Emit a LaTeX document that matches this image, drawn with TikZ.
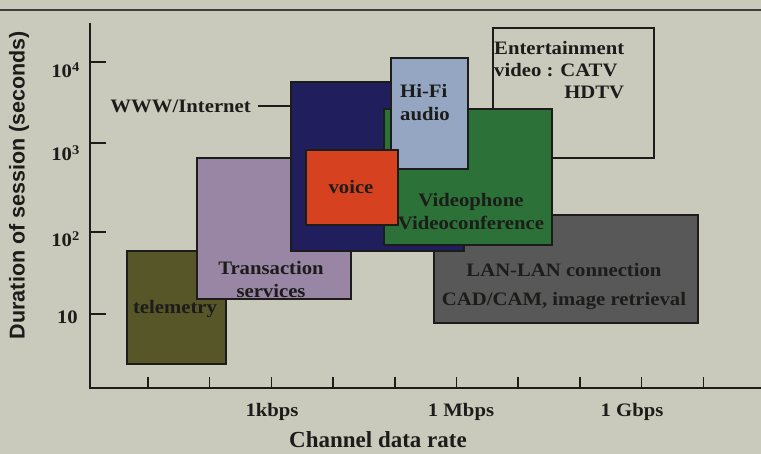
\documentclass[tikz,border=0pt]{standalone}
\usepackage{fontspec}
\setmainfont{Liberation Serif}
\setsansfont{Liberation Sans}
\newfontfamily\wideserif[FakeStretch=1.09]{Liberation Serif}
\definecolor{paper}{RGB}{202,202,188}
\definecolor{ink}{RGB}{28,28,26}
\definecolor{cOlive}{RGB}{86,86,40}
\definecolor{cPurple}{RGB}{152,134,164}
\definecolor{cNavy}{RGB}{32,30,92}
\definecolor{cGreen}{RGB}{44,114,56}
\definecolor{cHifi}{RGB}{148,166,194}
\definecolor{cRed}{RGB}{214,66,32}
\definecolor{cGray}{RGB}{88,88,88}
\tikzset{
  area/.style={draw=ink, line width=1.6pt, inner sep=0pt, anchor=north west},
  lbl/.style={font=\wideserif\fontsize{19}{23}\selectfont\bfseries, text=ink, inner sep=1pt, align=center},
  ticklbl/.style={font=\wideserif\fontsize{19}{22}\selectfont\bfseries, text=ink, inner sep=0pt},
  axis/.style={draw=ink, line width=1.5pt},
  title/.style={text=ink, inner sep=0pt}
}
\begin{document}
\begin{tikzpicture}[x=1pt,y=-1pt]
\fill[paper] (0,0) rectangle (761,454);
\useasboundingbox (0,0) rectangle (761,454);
% top rule
\coordinate (ruleL) at (0,10);
\coordinate (ruleR) at (761,10);
\draw[draw=ink!85, line width=1.2pt] (ruleL) -- (ruleR);

% areas (drawing order = stacking order)
\node[area, minimum width=161pt, minimum height=130pt] (ent) at (492,27) {};
\node[area, fill=cGray, minimum width=264pt, minimum height=108pt] (lan) at (433,214) {};
\node[area, fill=cOlive, minimum width=99pt, minimum height=113pt] (tele) at (126,250) {};
\node[area, fill=cPurple, minimum width=154pt, minimum height=141pt] (trans) at (196,157) {};
\node[area, fill=cNavy, minimum width=173pt, minimum height=169pt] (www) at (290,81) {};
\node[area, fill=cGreen, minimum width=168pt, minimum height=136pt] (video) at (383,108) {};
\node[area, fill=cHifi, minimum width=77pt, minimum height=111pt] (hifi) at (390,57) {};
\node[area, fill=cRed, minimum width=92pt, minimum height=75pt] (voice) at (305,149) {};

% labels
\node[lbl, anchor=north west, inner sep=0pt] (entT) at (494,38)
  {\begin{tabular}{@{}l@{}}Entertainment\\[-1pt]video : CATV\\[-1pt]\multicolumn{1}{@{}r@{}}{HDTV}\end{tabular}};
\node[lbl, align=left, anchor=west] (hifiT) at (399,103) {Hi-Fi\\audio};
\node[lbl] (voiceT) at (351,187) {voice};
\node[lbl] (videoT) at (471,212) {Videophone\\Videoconference};
\node[lbl, font=\wideserif\fontsize{19}{29}\selectfont\bfseries] (lanT) at (564,287) {LAN-LAN connection\\CAD/CAM, image retrieval};
\node[lbl] (transT) at (271,280) {Transaction\\services};
\node[lbl] (teleT) at (175,309) {telemetry};
\node[lbl, anchor=east] (wwwT) at (252,106) {WWW/Internet};
\draw[axis] ([xshift=6pt]wwwT.east) -- (wwwT.east -| www.west);

% axes
\coordinate (yTop) at (90,23);
\coordinate (origin) at (90,388);
\coordinate (xEnd) at (761,388);
\draw[axis] (yTop) -- (origin) -- (xEnd);
\foreach \yy in {62,143,232,314}{
  \draw[axis] (90,\yy) -- (106,\yy);
}
\foreach \k in {0,...,9}{
  \draw[axis] ({148+61.7*\k},388) -- ({148+61.7*\k},377);
}
\node[ticklbl, anchor=east] (y4) at (80,70) {10\textsuperscript{4}};
\node[ticklbl, anchor=east] (y3) at (80,153) {10\textsuperscript{3}};
\node[ticklbl, anchor=east] (y2) at (80,239) {10\textsuperscript{2}};
\node[ticklbl, anchor=east] (y1) at (78,317) {10};
\node[ticklbl] (x1) at (272,412) {1kbps};
\node[ticklbl] (x2) at (461,412) {1 Mbps};
\node[ticklbl] (x3) at (632,412) {1 Gbps};
\node[title, font=\fontsize{23}{26}\selectfont\bfseries] (xT) at (378,440) {Channel data rate};
\node[title, rotate=90, font=\sffamily\fontsize{21.5}{24}\selectfont\bfseries] (yT) at (19,185) {Duration of session (seconds)};
\end{tikzpicture}
\end{document}
